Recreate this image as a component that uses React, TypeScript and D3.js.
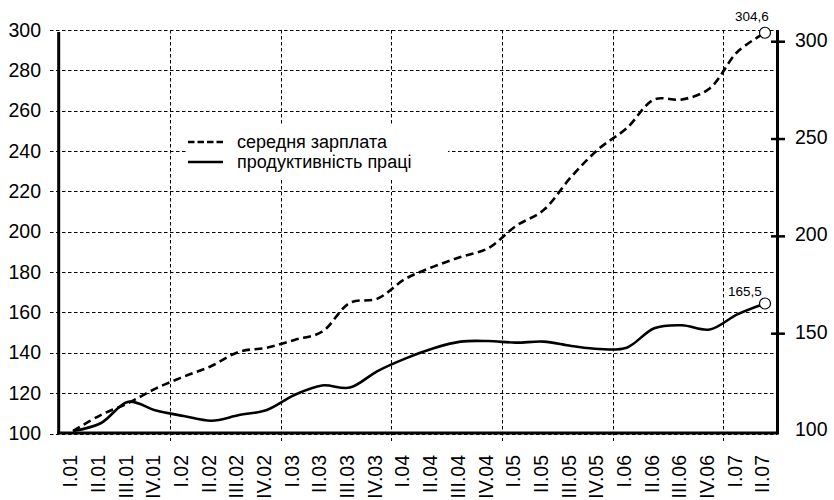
import React from "react";
import * as d3 from "d3";

const quarters = [
  "I.01", "II.01", "III.01", "IV.01",
  "I.02", "II.02", "III.02", "IV.02",
  "I.03", "II.03", "III.03", "IV.03",
  "I.04", "II.04", "III.04", "IV.04",
  "I.05", "II.05", "III.05", "IV.05",
  "I.06", "II.06", "III.06", "IV.06",
  "I.07", "II.07",
];

const wages = [
  100, 108.2, 114.4, 121.9,
  127.9, 133.4, 140.7, 142.8,
  146.8, 151, 165.8, 168,
  178.1, 184.3, 189.4, 193.9,
  205.3, 213.5, 230.6, 245,
  255.5, 270.3, 270.3, 276,
  294.7, 304.6,
];

const productivity = [
  100, 104, 115, 110.5,
  107.7, 105.3, 108.2, 110.8,
  118.5, 123.4, 122.3, 130.8,
  137.2, 142.4, 145.9, 146.2,
  145.4, 145.9, 143.7, 142.1,
  142.8, 152.8, 154.3, 152.1,
  159.9, 165.5,
];

const leftTicks = [100, 120, 140, 160, 180, 200, 220, 240, 260, 280, 300];
const rightTicks = [100, 150, 200, 250, 300];
const seriesNames = ["середня зарплата", "продуктивність праці"];
const lastWageLabel = "304,6";
const lastProdLabel = "165,5";

const W = 834;
const H = 500;
const FONT = "'Liberation Sans', Arial, Helvetica, sans-serif";

export default function App() {
  const x = d3.scalePoint<string>().domain(quarters).range([73, 765]);
  const step = x.step();
  const yL = d3.scaleLinear().domain([100, 300]).range([433.5, 30]);
  const yR = d3.scaleLinear().domain([100, 300]).range([431, 41.7]);

  const plotLeft = 58.7;
  const plotRight = 777.5;
  const plotBottom = 433.5;
  const plotTop = 30;

  const line = d3
    .line<number>()
    .x((_, i) => x(quarters[i]) as number)
    .y((d) => yR(d))
    .curve(d3.curveCatmullRom.alpha(0.5));

  const yearBounds = quarters
    .map((q, i) => ({ q, i }))
    .filter((d) => d.i > 0 && d.q.startsWith("I."))
    .map((d) => (x(d.q) as number) - step / 2);

  const lastIdx = quarters.length - 1;
  const lastX = x(quarters[lastIdx]) as number;

  return (
    <svg
      width={W}
      height={H}
      style={{ position: "absolute", left: 0, top: 0, display: "block", background: "#fff" }}
      fontFamily={FONT}
    >
      <rect x={0} y={0} width={W} height={H} fill="#fff" />
      {/* horizontal gridlines (left scale) */}
      {leftTicks.map((t) => (
        <line
          key={"h" + t}
          x1={50}
          x2={plotRight}
          y1={Math.round(yL(t)) + 0.5}
          y2={Math.round(yL(t)) + 0.5}
          stroke="#000"
          strokeWidth={1}
          strokeDasharray="3.5,2.5"
        />
      ))}
      {/* vertical gridlines at year boundaries */}
      {yearBounds.map((bx, i) => (
        <line
          key={"v" + i}
          x1={Math.round(bx) + 0.5}
          x2={Math.round(bx) + 0.5}
          y1={plotTop}
          y2={441}
          stroke="#000"
          strokeWidth={1}
          strokeDasharray="3.5,2.5"
        />
      ))}
      {/* legend background */}
      <rect x={188} y={125} width={260} height={53} fill="#fff" />
      {/* legend */}
      <line x1={188} x2={223} y1={142} y2={142} stroke="#000" strokeWidth={2.6} strokeDasharray="6.5,3" />
      <text x={237} y={148} fontSize={18} fill="#000">{seriesNames[0]}</text>
      <line x1={188} x2={223} y1={162} y2={162} stroke="#000" strokeWidth={2.6} />
      <text x={237} y={168} fontSize={18} fill="#000">{seriesNames[1]}</text>

      {/* series */}
      <path d={line(wages) || ""} fill="none" stroke="#000" strokeWidth={2.6} strokeDasharray="8,4.5" />
      <path d={line(productivity) || ""} fill="none" stroke="#000" strokeWidth={2.6} />

      {/* axes */}
      <line x1={plotLeft} x2={plotLeft} y1={32} y2={plotBottom} stroke="#000" strokeWidth={3} />
      <line x1={plotRight} x2={plotRight} y1={plotTop} y2={plotBottom} stroke="#000" strokeWidth={3} />
      <line x1={plotLeft - 1.5} x2={plotRight + 1.5} y1={plotBottom - 0.5} y2={plotBottom - 0.5} stroke="#000" strokeWidth={3} />

      {/* right ticks */}
      {rightTicks.map((t) => (
        <g key={"r" + t}>
          {t !== 100 && (
            <line x1={771} x2={785} y1={yR(t)} y2={yR(t)} stroke="#000" strokeWidth={2.5} />
          )}
          <text x={795} y={yR(t) + 5} fontSize={19.5} fill="#000">{t}</text>
        </g>
      ))}

      {/* left labels */}
      {leftTicks.map((t) => (
        <text key={"l" + t} x={41} y={yL(t) + 6.5} fontSize={19.5} textAnchor="end" fill="#000">
          {t}
        </text>
      ))}

      {/* x labels */}
      {quarters.map((q) => (
        <text
          key={q}
          transform={`translate(${(x(q) as number) - 2.5},455) rotate(-90)`}
          textAnchor="end"
          dy="0.35em"
          fontSize={19.5}
          fill="#000"
        >
          {q}
        </text>
      ))}

      {/* end markers */}
      <circle cx={lastX} cy={yR(wages[lastIdx])} r={5.5} fill="#fff" stroke="#000" strokeWidth={1.2} />
      <circle cx={lastX} cy={yR(productivity[lastIdx])} r={5.5} fill="#fff" stroke="#000" strokeWidth={1.2} />
      <text x={lastX - 13} y={yR(wages[lastIdx]) - 12} fontSize={13.5} textAnchor="middle" fill="#000">
        {lastWageLabel}
      </text>
      <text x={lastX - 20} y={yR(productivity[lastIdx]) - 8} fontSize={13.5} textAnchor="middle" fill="#000">
        {lastProdLabel}
      </text>
    </svg>
  );
}
